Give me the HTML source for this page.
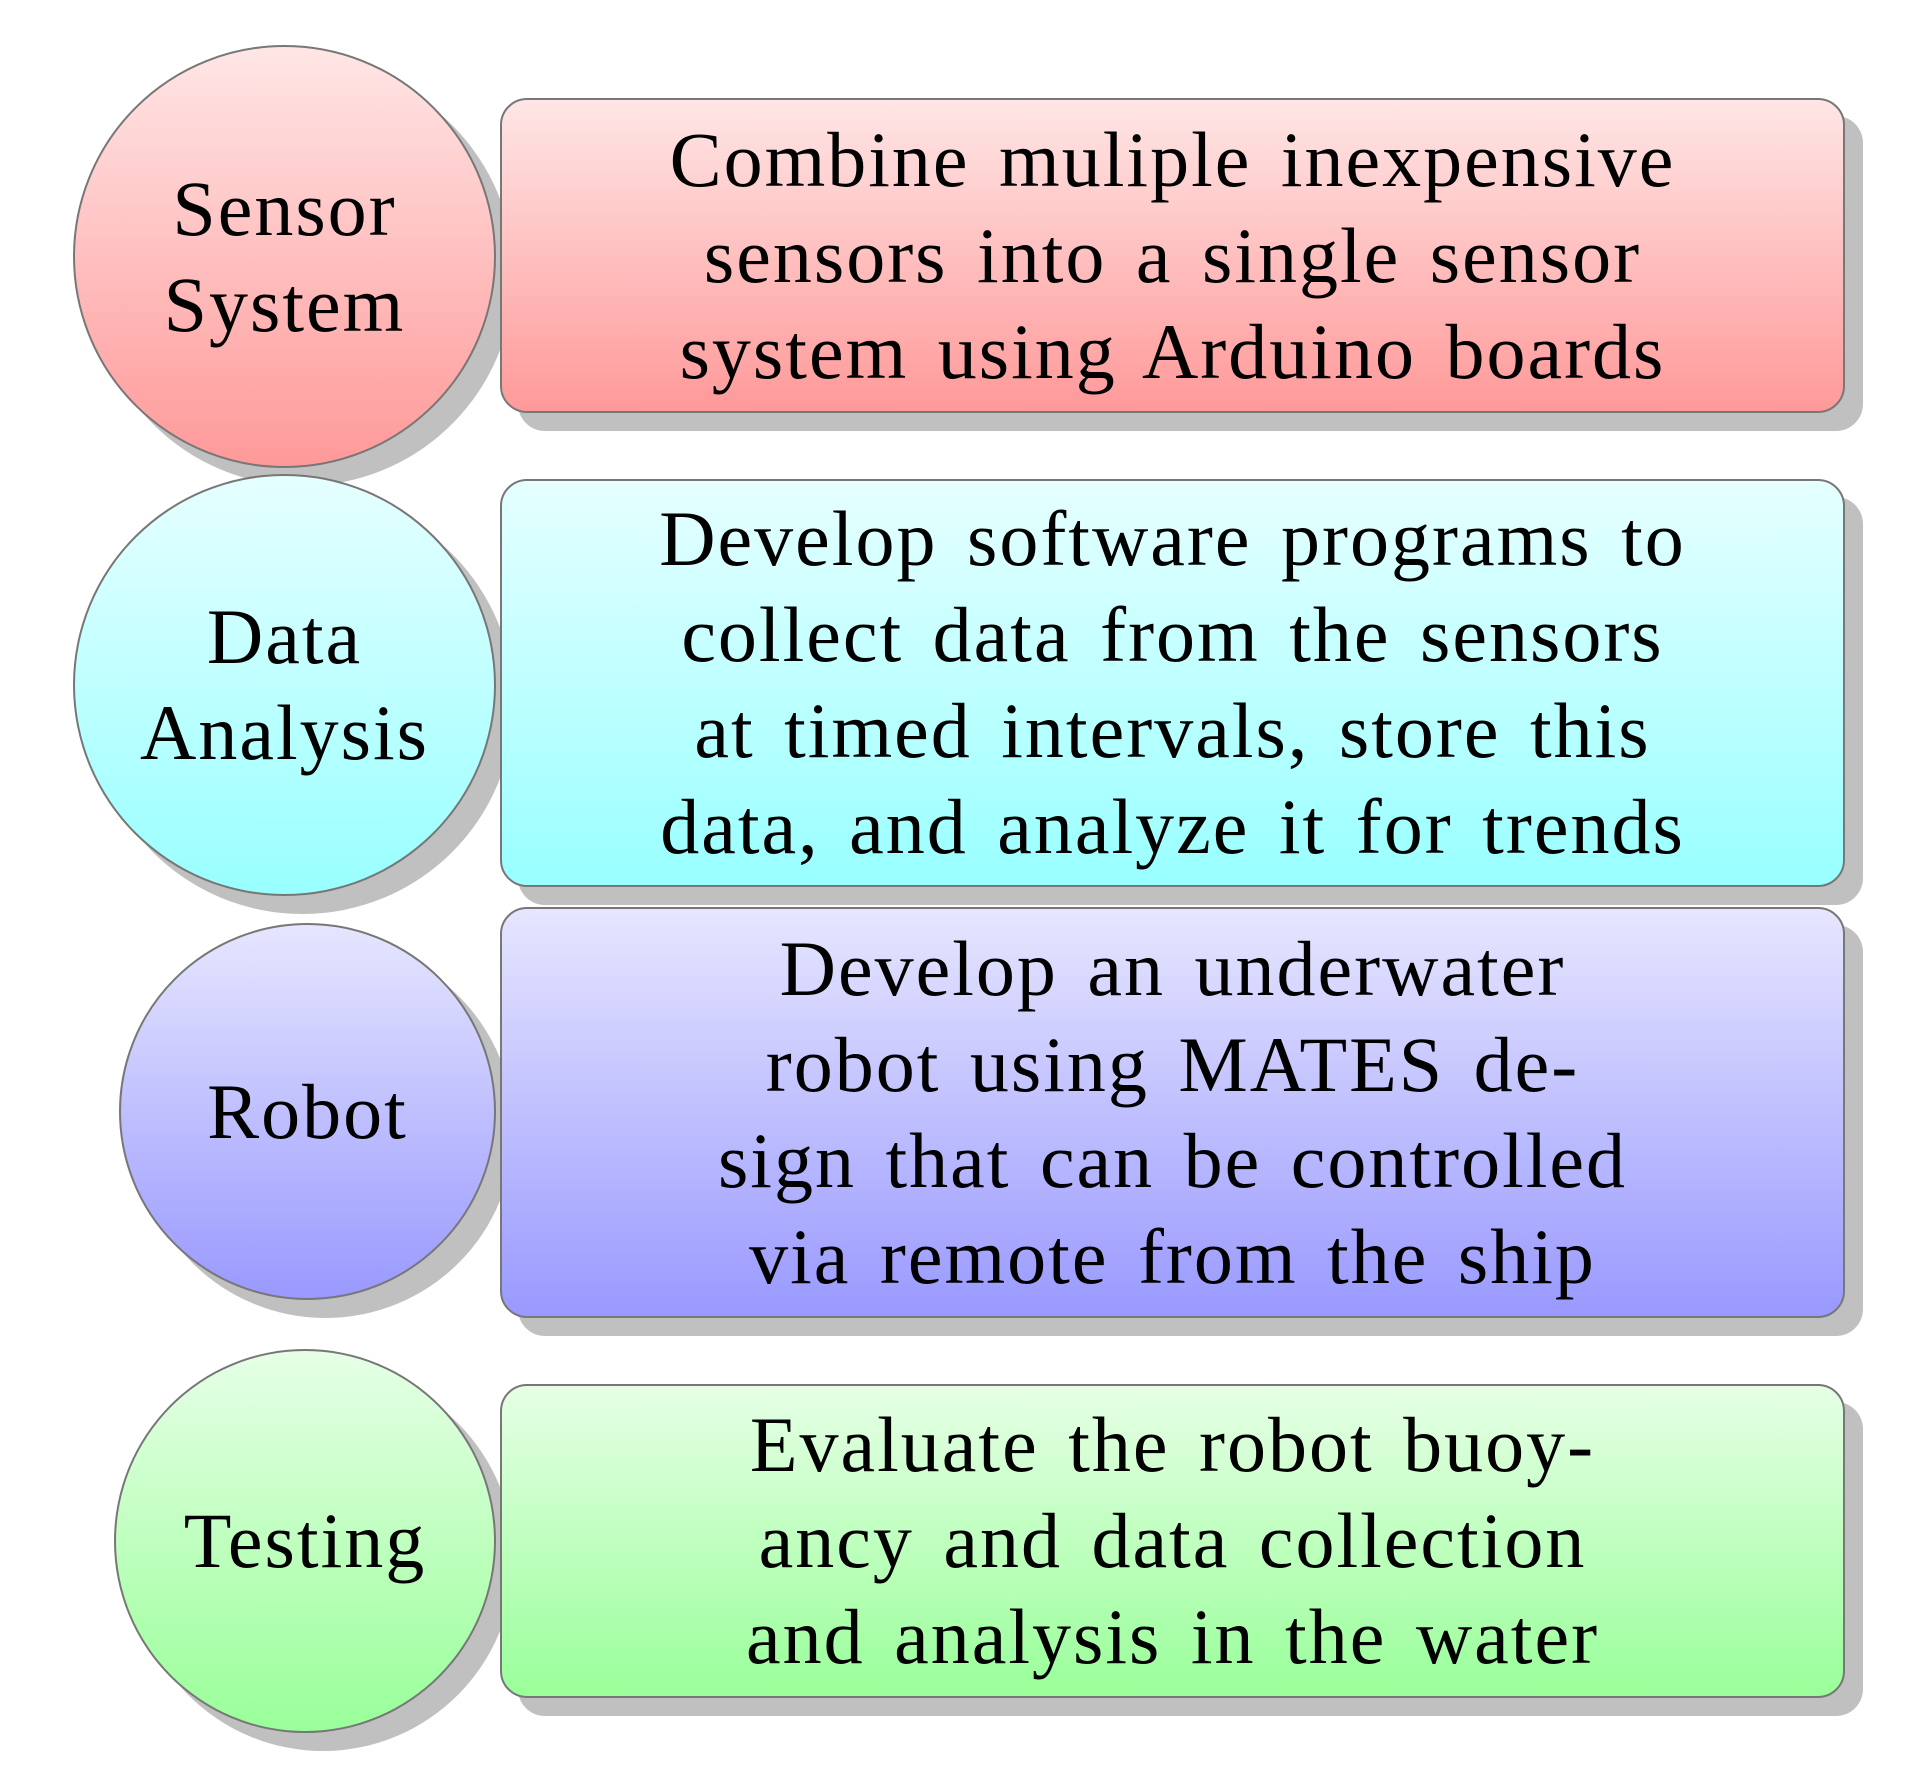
<!DOCTYPE html>
<html><head><style>
body{margin:0;width:1920px;height:1778px;background:#fff;position:relative;overflow:hidden;font-family:"Liberation Serif",serif;}
.s{position:absolute;background:#c0c0c0;}
.n{position:absolute;box-sizing:border-box;border:2.5px solid #777;display:flex;align-items:center;justify-content:center;text-align:center;font-size:78px;letter-spacing:2px;word-spacing:8px;line-height:96px;color:#000;white-space:nowrap;}
.c,.cs{border-radius:50%;}
.b,.bs{border-radius:27px;}
.r{background:linear-gradient(#ffe6e6,#ff9999);}
.cy{background:linear-gradient(#e6ffff,#99ffff);}
.bl{background:linear-gradient(#e6e6ff,#9999ff);}
.g{background:linear-gradient(#e6ffe6,#99ff99);}
</style></head><body>
<div class="s cs" style="left:91px;top:63px;width:423px;height:423px"></div>
<div class="s cs" style="left:91px;top:492px;width:423px;height:422px"></div>
<div class="s cs" style="left:137px;top:941px;width:377px;height:377px"></div>
<div class="s cs" style="left:132px;top:1367px;width:382px;height:384px"></div>
<div class="s bs" style="left:518px;top:116px;width:1345px;height:315px"></div>
<div class="s bs" style="left:518px;top:497px;width:1345px;height:408px"></div>
<div class="s bs" style="left:518px;top:925px;width:1345px;height:411px"></div>
<div class="s bs" style="left:518px;top:1402px;width:1345px;height:314px"></div>
<div class="n c r" style="left:73px;top:45px;width:423px;height:423px">Sensor<br>System</div>
<div class="n c cy" style="left:73px;top:474px;width:423px;height:422px">Data<br>Analysis</div>
<div class="n c bl" style="left:119px;top:923px;width:377px;height:377px">Robot</div>
<div class="n c g" style="left:114px;top:1349px;width:382px;height:384px">Testing</div>
<div class="n b r" style="left:500px;top:98px;width:1345px;height:315px">Combine muliple inexpensive<br>sensors into a single sensor<br>system using Arduino boards</div>
<div class="n b cy" style="left:500px;top:479px;width:1345px;height:408px">Develop software programs to<br>collect data from the sensors<br>at timed intervals, store this<br>data, and analyze it for trends</div>
<div class="n b bl" style="left:500px;top:907px;width:1345px;height:411px">Develop an underwater<br>robot using MATES de-<br>sign that can be controlled<br>via remote from the ship</div>
<div class="n b g" style="left:500px;top:1384px;width:1345px;height:314px">Evaluate the robot buoy-<br>ancy and data collection<br>and analysis in the water</div>
</body></html>
